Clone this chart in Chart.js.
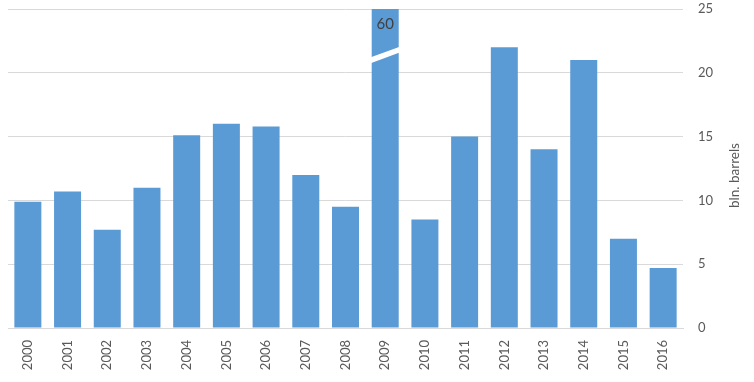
<!DOCTYPE html>
<html>
<head>
<meta charset="utf-8">
<script src="https://cdn.jsdelivr.net/npm/chart.js@4"></script>
<style>
  html, body { margin: 0; padding: 0; background: #fff; }
  #wrap { width: 754px; height: 382px; }
</style>
</head>
<body>
<div id="wrap"><canvas id="data-chart" width="754" height="382"></canvas></div>
<script>
const years = ['2000', '2001', '2002', '2003', '2004', '2005', '2006', '2007', '2008',
    '2009', '2010', '2011', '2012', '2013', '2014', '2015', '2016'];
const reserves = [9.9, 10.7, 7.7, 11.0, 15.1, 16.0, 15.8, 12.0, 9.5,
    60, 8.5, 15.0, 22.0, 14.0, 21.0, 7.0, 4.7];
const yTicks = [0, 5, 10, 15, 20, 25];
const axisTitle = 'bln. barrels';

const textColor = '#595959';
const fontFamily = 'Lato, "Open Sans", sans-serif';

// marks the bar that runs past the axis: value label + white break stripe
const brokenBarPlugin = {
    id: 'brokenBar',
    afterDatasetsDraw(chart) {
        const ctx = chart.ctx;
        const yScale = chart.scales.y;
        const meta = chart.getDatasetMeta(0);
        const max = yScale.max;
        reserves.forEach((v, i) => {
            if (v <= max) return;
            const bar = meta.data[i];
            const half = bar.width / 2;
            const yLeft = yScale.getPixelForValue(max - 4.0);
            const yRight = yScale.getPixelForValue(max - 3.2);
            ctx.save();
            ctx.strokeStyle = '#ffffff';
            ctx.lineWidth = 5.5;
            ctx.beginPath();
            ctx.moveTo(bar.x - half - 2, yLeft + 0.6);
            ctx.lineTo(bar.x + half + 2, yRight - 0.6);
            ctx.stroke();
            ctx.fillStyle = '#404040';
            ctx.font = '15px ' + fontFamily;
            ctx.textAlign = 'center';
            ctx.textBaseline = 'middle';
            ctx.fillText(String(v), bar.x, yScale.top + 15);
            ctx.restore();
        });
        // axis title on the right, reading bottom to top
        ctx.save();
        ctx.fillStyle = textColor;
        ctx.font = '13.5px ' + fontFamily;
        ctx.textAlign = 'center';
        ctx.textBaseline = 'middle';
        ctx.translate(735, (chart.chartArea.top + chart.chartArea.bottom) / 2 + 7);
        ctx.rotate(-Math.PI / 2);
        ctx.fillText(axisTitle, 0, 0);
        ctx.restore();
    }
};

const ctx = document.getElementById('data-chart').getContext('2d');
const chart = new Chart(ctx, {
    type: 'bar',
    data: {
        labels: years,
        datasets: [{
            data: reserves,
            backgroundColor: '#5b9bd5',
            borderWidth: 0,
            barPercentage: 0.68,
            categoryPercentage: 1
        }]
    },
    options: {
        responsive: false,
        animation: false,
        layout: { padding: { left: 8, top: 9, right: 0, bottom: 0 } },
        plugins: {
            legend: { display: false },
            tooltip: { enabled: false }
        },
        scales: {
            x: {
                afterFit(scale) {
                    scale.height = 54;
                    scale.paddingLeft = 0;
                    scale.paddingRight = 0;
                },
                grid: { display: false, drawTicks: false },
                border: { display: true, color: '#d9d9d9' },
                ticks: {
                    color: textColor,
                    font: { family: fontFamily, size: 13 },
                    minRotation: 90,
                    maxRotation: 90,
                    padding: 12
                }
            },
            y: {
                position: 'right',
                min: 0,
                max: 25,
                afterBuildTicks(scale) {
                    scale.ticks = yTicks.map(v => ({ value: v }));
                },
                afterFit(scale) {
                    scale.width = 71;
                    scale.paddingTop = 0;
                    scale.paddingBottom = 0;
                },
                grid: { color: '#d9d9d9', lineWidth: 1, drawTicks: false },
                border: { display: false },
                ticks: {
                    color: textColor,
                    font: { family: fontFamily, size: 13 },
                    padding: 15
                }
            }
        }
    },
    plugins: [brokenBarPlugin]
});
</script>
</body>
</html>
